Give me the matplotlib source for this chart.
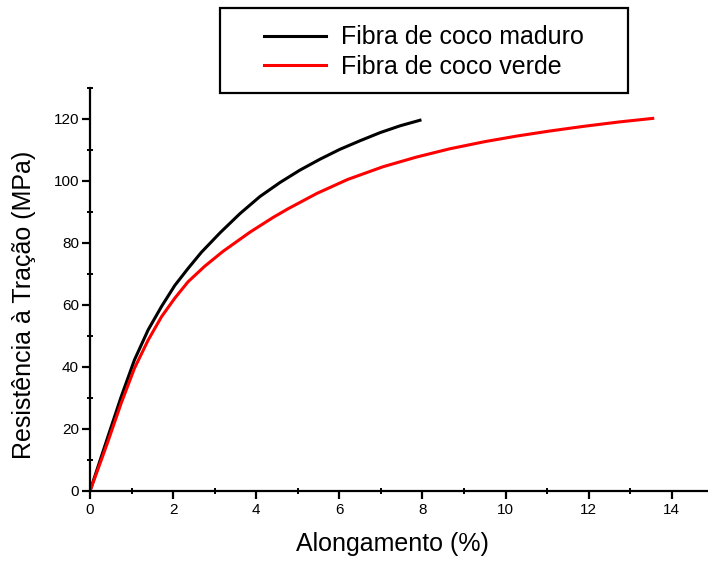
import matplotlib
matplotlib.use("Agg")
import matplotlib.pyplot as plt
from matplotlib.patches import Rectangle

# curva da fibra de coco maduro (alongamento %, tensao MPa)
maduro_x = [0, 0.11, 0.43, 0.75, 1.07, 1.40, 1.72, 2.04, 2.36, 2.68, 3.13, 3.61, 4.09, 4.57, 5.05,
            5.53, 6.01, 6.5, 6.98, 7.46, 7.94]
maduro_y = [0, 4.5, 17.5, 30.4, 42.3, 52, 59.5, 66.3, 71.8, 77.0, 83.3, 89.5, 95, 99.5, 103.5,
            107, 110.2, 113, 115.6, 117.8, 119.6]

# curva da fibra de coco verde
verde_x = [0, 0.11, 0.43, 0.75, 1.07, 1.40, 1.72, 2.04, 2.36, 2.76, 3.2, 3.85, 4.4, 4.76, 5.46,
           6.2, 7.05, 7.85, 8.66, 9.5, 10.27, 11.05, 11.86, 12.7, 13.54]
verde_y = [0, 4.0, 15.9, 28.3, 39.6, 48.7, 56.2, 62.2, 67.5, 72.5, 77.3, 83.5, 88.2, 91.0, 96,
           100.5, 104.6, 107.7, 110.4, 112.7, 114.5, 116.1, 117.6, 119.0, 120.2]

labels = ["Fibra de coco maduro", "Fibra de coco verde"]
cores = ["black", "#ff0000"]

plt.rcParams['font.family'] = ['Liberation Sans', 'DejaVu Sans']

fig = plt.figure(figsize=(7.08, 5.63), dpi=100)
ax = fig.add_axes([90 / 708, 1 - 491 / 563, 618 / 708, 403 / 563])

l1, = ax.plot(maduro_x, maduro_y, color=cores[0], lw=2.2, label=labels[0],
              solid_joinstyle='round')
l2, = ax.plot(verde_x, verde_y, color=cores[1], lw=2.2, label=labels[1],
              solid_joinstyle='round')

ax.set_xlim(0, 14.87)
ax.set_ylim(0, 130)
ax.set_xticks(range(0, 15, 2))
ax.set_yticks(range(0, 121, 20))
ax.set_xticks(range(1, 15, 2), minor=True)
ax.set_yticks(range(10, 131, 20), minor=True)

for s in ['top', 'right']:
    ax.spines[s].set_visible(False)
for s in ['left', 'bottom']:
    ax.spines[s].set_linewidth(1.6)

ax.tick_params(which='major', direction='out', length=6, width=1.6, labelsize=11)
ax.tick_params(which='minor', direction='inout', length=5, width=1.4)
ax.tick_params(axis='y', which='major', pad=2)
ax.tick_params(axis='x', which='major', pad=3)

ax.set_xlabel("Alongamento (%)", fontsize=18)
ax.set_ylabel("Resistência à Tração (MPa)", fontsize=18)
ax.xaxis.set_label_coords(0.490, -0.1005)
ax.yaxis.set_label_coords(-0.087, 0.4615)

# caixa da legenda
fig.patches.append(Rectangle((220 / 708, 1 - 93 / 563), 408 / 708, 85 / 563,
                             transform=fig.transFigure, fill=False,
                             edgecolor='black', lw=1.6))
fig.legend(handles=[l1, l2], loc='center', bbox_to_anchor=(424 / 708, 1 - 52 / 563),
           frameon=False, fontsize=18, handlelength=2.5, handletextpad=0.6,
           labelspacing=0.2, borderpad=0)

fig.savefig("out.png", dpi=100)
